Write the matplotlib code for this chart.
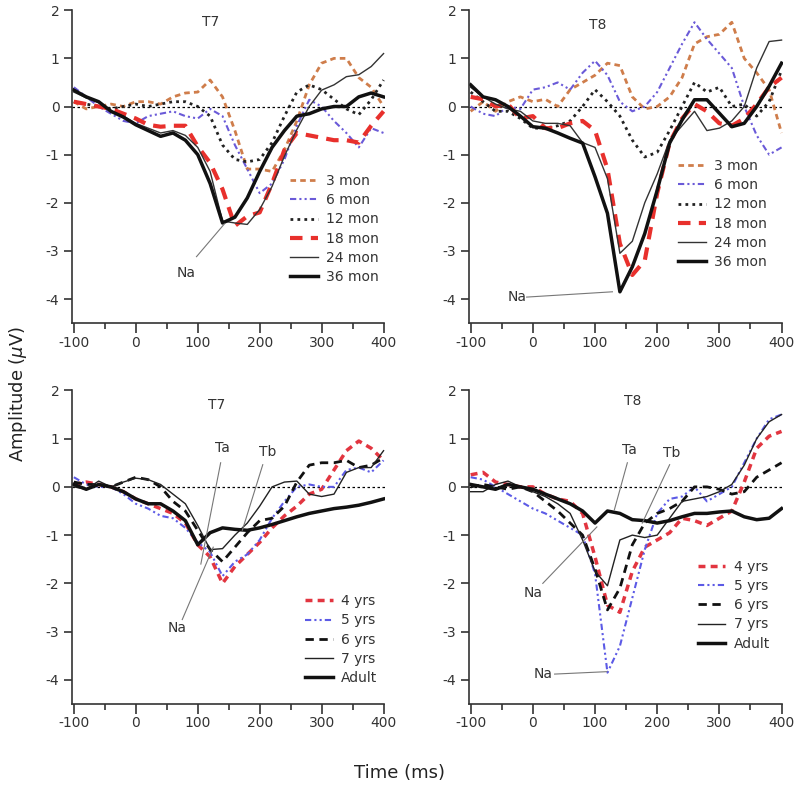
import matplotlib
matplotlib.use("Agg")
import matplotlib.pyplot as plt

plt.rcParams["axes.unicode_minus"] = False

# time axis (ms), shared by all curves
t = [-100, -80, -60, -40, -20, 0, 20, 40, 60, 80, 100, 120, 140, 160, 180,
     200, 220, 240, 260, 280, 300, 320, 340, 360, 380, 400]

# top row: infants (months)
t7_infant = {
    "3 mon":  [0.1, -0.05, 0.0, 0.05, 0.0, 0.1, 0.1, 0.05, 0.2, 0.28, 0.3, 0.55, 0.2, -0.5, -1.3,
               -1.3, -1.35, -0.9, -0.3, 0.45, 0.9, 1.0, 1.0, 0.6, 0.4, 0.0],
    "6 mon":  [0.4, 0.2, 0.0, -0.15, -0.3, -0.35, -0.2, -0.15, -0.1, -0.2, -0.25, -0.05, -0.2, -0.8, -1.3,
               -1.8, -1.6, -1.1, -0.4, 0.14, 0.0, -0.3, -0.55, -0.85, -0.45, -0.55],
    "12 mon": [0.1, 0.05, 0.0, -0.05, 0.0, 0.05, 0.0, 0.05, 0.1, 0.1, 0.0, -0.2, -0.8, -1.1, -1.15,
               -1.1, -0.75, -0.2, 0.3, 0.45, 0.35, 0.15, -0.05, -0.17, 0.14, 0.55],
    "18 mon": [0.1, 0.05, 0.0, -0.05, -0.15, -0.25, -0.38, -0.42, -0.4, -0.4, -0.83, -1.17, -1.72, -2.48, -2.28,
               -2.2, -1.6, -0.9, -0.55, -0.6, -0.65, -0.7, -0.7, -0.75, -0.4, -0.1],
    "24 mon": [0.3, 0.18, 0.08, -0.1, -0.2, -0.35, -0.45, -0.55, -0.5, -0.6, -0.85, -1.35, -2.38, -2.42, -2.45,
               -2.14, -1.66, -1.03, -0.48, 0.0, 0.34, 0.45, 0.62, 0.66, 0.83, 1.1],
    "36 mon": [0.34, 0.2, 0.1, -0.1, -0.22, -0.38, -0.5, -0.62, -0.55, -0.7, -1.0, -1.6, -2.42, -2.3, -1.9,
               -1.35, -0.85, -0.5, -0.2, -0.15, -0.05, 0.0, 0.0, 0.2, 0.28, 0.2],
}
t8_infant = {
    "3 mon":  [-0.1, 0.1, -0.1, 0.1, 0.2, 0.1, 0.15, 0.0, 0.35, 0.5, 0.65, 0.9, 0.85, 0.2, -0.05,
               0.0, 0.2, 0.6, 1.3, 1.45, 1.5, 1.75, 1.0, 0.7, 0.35, -0.55],
    "6 mon":  [0.0, -0.15, -0.2, 0.0, -0.05, 0.35, 0.4, 0.5, 0.35, 0.7, 0.95, 0.65, 0.1, -0.1, 0.0,
               0.3, 0.8, 1.3, 1.75, 1.4, 1.1, 0.8, 0.0, -0.6, -1.0, -0.85],
    "12 mon": [0.3, 0.1, -0.1, -0.1, -0.25, -0.45, -0.45, -0.4, -0.3, 0.0, 0.35, 0.1, -0.2, -0.7, -1.05,
               -0.95, -0.5, 0.0, 0.5, 0.3, 0.4, 0.0, 0.05, -0.2, 0.1, 0.75],
    "18 mon": [0.2, 0.15, 0.0, 0.05, -0.25, -0.2, -0.45, -0.45, -0.35, -0.3, -0.5, -1.3, -2.85, -3.5, -3.2,
               -1.8, -0.75, -0.25, 0.05, -0.1, -0.35, -0.4, -0.25, 0.05, 0.4, 0.6],
    "24 mon": [0.4, 0.2, 0.05, -0.05, -0.1, -0.3, -0.35, -0.35, -0.4, -0.75, -0.85, -1.5, -3.05, -2.8, -2.0,
               -1.4, -0.7, -0.4, -0.1, -0.5, -0.45, -0.3, 0.0, 0.8, 1.35, 1.38],
    "36 mon": [0.45, 0.2, 0.14, 0.0, -0.2, -0.42, -0.45, -0.55, -0.66, -0.76, -1.46, -2.22, -3.85, -3.33, -2.64,
               -1.74, -0.76, -0.28, 0.14, 0.14, -0.14, -0.42, -0.35, 0.0, 0.42, 0.9],
}

# bottom row: children (years) and adults
t7_child = {
    "4 yrs": [0.05, 0.1, 0.05, 0.0, -0.1, -0.25, -0.35, -0.45, -0.55, -0.75, -1.2, -1.45, -2.0, -1.65, -1.4,
              -1.15, -0.85, -0.6, -0.4, -0.15, -0.05, 0.35, 0.75, 0.95, 0.8, 0.55],
    "5 yrs": [0.2, 0.05, 0.0, 0.0, -0.15, -0.35, -0.45, -0.6, -0.65, -0.85, -1.15, -1.35, -1.85, -1.55, -1.4,
              -1.1, -0.65, -0.3, 0.0, 0.05, 0.0, 0.0, 0.35, 0.4, 0.3, 0.55],
    "6 yrs": [0.1, 0.05, 0.05, 0.0, 0.1, 0.2, 0.15, 0.0, -0.3, -0.5, -0.9, -1.3, -1.55, -1.25, -0.95,
              -0.7, -0.65, -0.4, 0.1, 0.45, 0.5, 0.5, 0.55, 0.4, 0.45, 0.6],
    "7 yrs": [0.0, -0.05, 0.12, 0.0, 0.1, 0.18, 0.15, 0.05, -0.15, -0.35, -0.8, -1.3, -1.28, -1.0, -0.75,
              -0.4, 0.0, 0.1, 0.12, -0.15, -0.2, -0.15, 0.3, 0.4, 0.4, 0.75],
    "Adult": [0.05, -0.05, 0.05, 0.0, -0.1, -0.25, -0.35, -0.35, -0.5, -0.7, -1.2, -0.95, -0.85, -0.88, -0.9,
              -0.85, -0.78, -0.7, -0.62, -0.55, -0.5, -0.45, -0.42, -0.38, -0.32, -0.25],
}
t8_child = {
    "4 yrs": [0.25, 0.3, 0.1, 0.05, 0.0, 0.0, -0.15, -0.25, -0.3, -0.55, -1.45, -2.45, -2.6, -1.75, -1.25,
              -1.1, -0.95, -0.65, -0.7, -0.8, -0.65, -0.5, 0.1, 0.8, 1.05, 1.15],
    "5 yrs": [0.2, 0.15, 0.0, -0.15, -0.3, -0.45, -0.55, -0.7, -0.85, -1.0, -1.8, -3.85, -3.3, -2.3, -1.3,
              -0.55, -0.25, -0.2, 0.0, -0.3, -0.15, 0.0, 0.5, 1.0, 1.4, 1.5],
    "6 yrs": [0.0, 0.05, 0.0, -0.05, 0.0, -0.1, -0.3, -0.5, -0.75, -1.0, -1.7, -2.55, -2.1, -1.2, -0.75,
              -0.55, -0.45, -0.3, 0.0, 0.0, -0.05, -0.15, -0.1, 0.2, 0.35, 0.5],
    "7 yrs": [-0.1, -0.1, 0.05, 0.12, 0.0, -0.1, -0.2, -0.35, -0.55, -1.1, -1.75, -2.05, -1.1, -1.0, -1.05,
              -1.0, -0.65, -0.3, -0.25, -0.2, -0.1, 0.05, 0.45, 1.0, 1.35, 1.5],
    "Adult": [0.05, 0.0, -0.05, 0.05, 0.0, -0.05, -0.15, -0.25, -0.35, -0.5, -0.75, -0.5, -0.55, -0.68, -0.7,
              -0.75, -0.7, -0.62, -0.55, -0.55, -0.52, -0.5, -0.62, -0.68, -0.65, -0.45],
}

styles_infant = {
    "3 mon":  dict(color="#cf7d4b", lw=2.0, ls=(0, (2.0, 1.5))),
    "6 mon":  dict(color="#6a5ad8", lw=1.5, ls=(0, (3, 1.5, 1, 1.5, 1, 1.5))),
    "12 mon": dict(color="#222222", lw=2.0, ls=(0, (1, 1.5))),
    "18 mon": dict(color="#e8302c", lw=3.0, ls=(0, (3, 2))),
    "24 mon": dict(color="#333333", lw=1.0, ls="-"),
    "36 mon": dict(color="#111111", lw=2.5, ls="-"),
}
styles_child = {
    "4 yrs": dict(color="#e23540", lw=2.5, ls=(0, (2.0, 1.5))),
    "5 yrs": dict(color="#5c5ae6", lw=1.5, ls=(0, (3, 1.5, 1, 1.5, 1, 1.5))),
    "6 yrs": dict(color="#111111", lw=2.0, ls=(0, (3, 2))),
    "7 yrs": dict(color="#222222", lw=1.0, ls="-"),
    "Adult": dict(color="#111111", lw=2.5, ls="-"),
}

fig = plt.figure(figsize=(8, 7.88), dpi=100)
ax_tl = fig.add_axes([0.09, 0.59, 0.391, 0.397])
ax_tr = fig.add_axes([0.586, 0.59, 0.3925, 0.397])
ax_bl = fig.add_axes([0.09, 0.1066, 0.391, 0.398])
ax_br = fig.add_axes([0.586, 0.1066, 0.3925, 0.398])

panels = [
    (ax_tl, t7_infant, styles_infant, "T7", (120, 1.75), (0.697, 0.476)),
    (ax_tr, t8_infant, styles_infant, "T8", (105, 1.7), (0.666, 0.524)),
    (ax_bl, t7_child, styles_child, "T7", (131, 1.7), (0.744, 0.35)),
    (ax_br, t8_child, styles_child, "T8", (160, 1.77), (0.729, 0.459)),
]

grey = "#333333"
for ax, series, styles, title, tpos, lpos in panels:
    ax.axhline(0, color="black", lw=0.9, ls=(0, (2, 2)), zorder=1)
    for name, vals in series.items():
        ax.plot(t, vals, label=name, **styles[name])
    ax.set_xlim(-103, 402)
    ax.set_ylim(-4.5, 2)
    ax.set_xticks([-100, 0, 100, 200, 300, 400])
    ax.set_xticks([-50, 50, 150, 250, 350], minor=True)
    ax.set_yticks([-4, -3, -2, -1, 0, 1, 2])
    for s in ["top", "right"]:
        ax.spines[s].set_visible(False)
    for s in ["left", "bottom"]:
        ax.spines[s].set_color(grey)
        ax.spines[s].set_linewidth(1.2)
    ax.spines["bottom"].set_bounds(-103, 400)
    ax.tick_params(axis="x", which="major", length=7, width=1.2, color=grey,
                   labelsize=10, labelcolor=grey, pad=2)
    ax.tick_params(axis="x", which="minor", length=4, width=1.2, color=grey)
    ax.tick_params(axis="y", length=6, width=1.2, color=grey,
                   labelsize=10, labelcolor=grey, pad=3)
    ax.text(tpos[0], tpos[1], title, ha="center", va="center", fontsize=10, color=grey)
    ax.legend(loc="upper left", bbox_to_anchor=lpos, frameon=False, fontsize=10,
              handlelength=2.0, handletextpad=0.6, labelspacing=0.37,
              borderpad=0, borderaxespad=0, labelcolor=grey)

line_kw = dict(color="#777777", lw=0.8)
# annotations
ax_tl.plot([98, 143], [-3.12, -2.44], **line_kw)
ax_tl.text(82, -3.46, "Na", ha="center", va="center", fontsize=10, color=grey)

ax_tr.plot([-10, 128], [-3.96, -3.85], **line_kw)
ax_tr.text(-26, -3.96, "Na", ha="center", va="center", fontsize=10, color=grey)

ax_bl.plot([137, 105], [0.5, -1.6], **line_kw)
ax_bl.plot([75, 125], [-2.75, -1.25], **line_kw)
ax_bl.plot([205, 172], [0.46, -0.9], **line_kw)
ax_bl.text(140, 0.81, "Ta", ha="center", va="center", fontsize=10, color=grey)
ax_bl.text(213, 0.73, "Tb", ha="center", va="center", fontsize=10, color=grey)
ax_bl.text(66, -2.92, "Na", ha="center", va="center", fontsize=10, color=grey)

ax_br.plot([152, 131], [0.5, -0.48], **line_kw)
ax_br.plot([220, 176], [0.46, -0.75], **line_kw)
ax_br.plot([16, 103], [-2.0, -0.83], **line_kw)
ax_br.plot([35, 119], [-3.88, -3.83], **line_kw)
ax_br.text(156, 0.77, "Ta", ha="center", va="center", fontsize=10, color=grey)
ax_br.text(223, 0.71, "Tb", ha="center", va="center", fontsize=10, color=grey)
ax_br.text(0, -2.2, "Na", ha="center", va="center", fontsize=10, color=grey)
ax_br.text(16, -3.88, "Na", ha="center", va="center", fontsize=10, color=grey)

fig.text(0.0225, 0.5, r"Amplitude ($\mu$V)", rotation=90, ha="center", va="center",
         fontsize=13, color="#222222")
fig.text(0.5, 0.019, "Time (ms)", ha="center", va="center", fontsize=13, color="#222222")

fig.savefig("out.png", dpi=100)
